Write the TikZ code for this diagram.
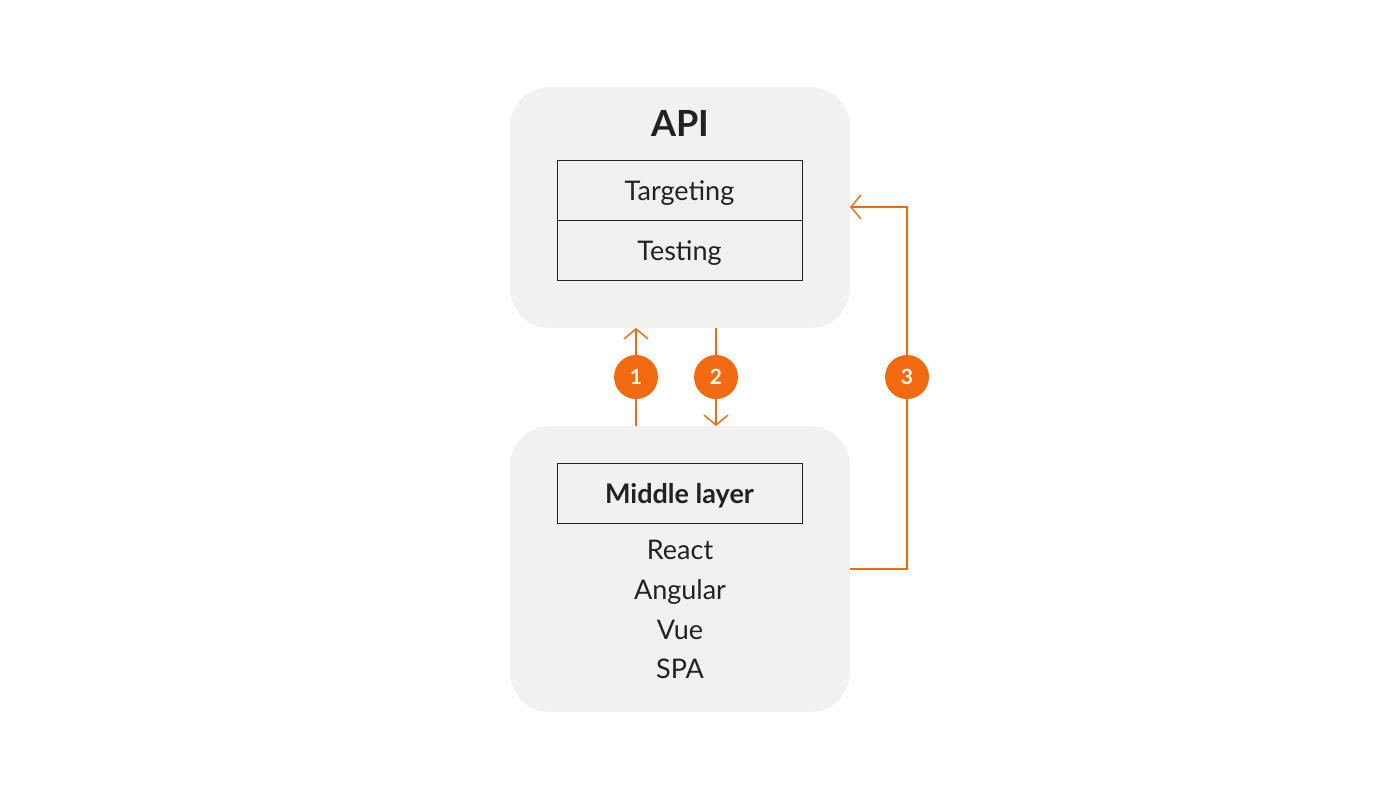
\documentclass[tikz,border=0pt]{standalone}
\usepackage{fontspec}
\setmainfont{Lato}
\usetikzlibrary{arrows.meta,positioning}
\definecolor{boxgray}{HTML}{F2F1F0}
\definecolor{accent}{HTML}{F26A10}
\definecolor{ink}{HTML}{222222}
\tikzset{
  panel/.style={fill=boxgray, rounded corners=40pt, minimum width=340pt},
  cell/.style={draw=ink, thick, minimum width=245pt, minimum height=60pt, text height=22pt, text depth=2pt, font=\fontsize{27pt}{30pt}\selectfont, text=ink},
  badge/.style={circle, fill=accent, minimum size=44pt, inner sep=0pt, text=white, font=\bfseries\fontsize{21pt}{24pt}\selectfont},
  flow/.style={draw=accent, line width=1.4pt, -{Straight Barb[length=10pt,width=24pt]}},
  item/.style={font=\fontsize{27pt}{30pt}\selectfont, text=ink, inner sep=0pt, text height=22pt, text depth=2pt}
}
\begin{document}
\begin{tikzpicture}[x=1pt,y=-1pt]
        \useasboundingbox (0,0) rectangle (1400,800);
        % panels
        \node[panel, minimum height=241pt] (api) at (680,207.5) {};
        \node[panel, minimum height=286pt] (mid) at (680,569) {};
        % api contents
        \node[item, font=\bfseries\fontsize{36pt}{40pt}\selectfont, text height=30pt] (title) at (680,122) {API};
        \node[cell] (target) at (679.5,190) {Targeting};
        \node[cell] (test) at (679.5,250) {Testing};
        % middle contents
        \node[cell, font=\bfseries\fontsize{27pt}{30pt}\selectfont] (layer) at (679.5,493) {Middle layer};
        \node[item] (react) at (680,549) {React};
        \node[item] (angular) at (680,589) {Angular};
        \node[item] (vue) at (680,629) {Vue};
        \node[item] (spa) at (680,668) {SPA};
        % connectors
        \coordinate (a1) at (636,426);
        \coordinate (b1) at (636,328);
        \coordinate (a2) at (716,328);
        \coordinate (b2) at (716,426);
        \coordinate (a3) at (850,569);
        \coordinate (c3) at (907,569);
        \coordinate (d3) at (907,207);
        \coordinate (b3) at (850,207);
        \draw[flow] (a1) -- (b1);
        \draw[flow] (a2) -- (b2);
        \draw[flow] (a3) -- (c3) -- (d3) -- (b3);
        % step markers
        \node[badge] (s1) at (636,377) {1};
        \node[badge] (s2) at (716,377) {2};
        \node[badge] (s3) at (907,377) {3};
\end{tikzpicture}
\end{document}
